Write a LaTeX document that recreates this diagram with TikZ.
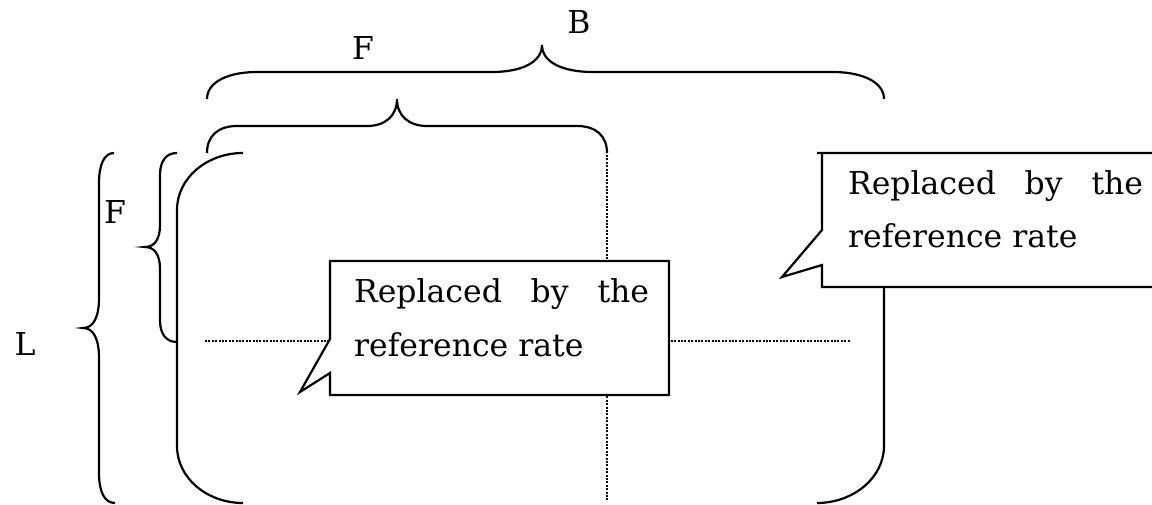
\documentclass[tikz,border=0pt]{standalone}
\usepackage{fontspec}
\setmainfont{DejaVu Serif}
\begin{document}
\begin{tikzpicture}[x=1pt,y=-1pt,
  line width=2.2pt,
  lbl/.style={inner sep=0pt,font=\fontsize{31.5}{38}\selectfont},
  txt/.style={inner sep=0pt,anchor=base west,font=\fontsize{31.5}{38}\selectfont},
  guide/.style={line width=2.6pt,dash pattern=on 2pt off 1.4pt},
  callout/.style={fill=white,line join=miter}]
\useasboundingbox (0,0) rectangle (1152,505);

% dotted cross lines
\draw[guide] (205,341) -- (850,341);
\draw[guide] (607,155) -- (607,500);

% horizontal braces
\draw (207,99) .. controls (207,82) and (228,72) .. (257,72) -- (492,72)
  .. controls (522,72) and (542,62) .. (542,45)
  .. controls (542,62) and (562,72) .. (593,72) -- (833,72)
  .. controls (862,72) and (884,82) .. (884,99);
\draw (207,153) .. controls (207,136) and (218,126) .. (237,126) -- (367,126)
  .. controls (385,126) and (397,116) .. (397,99)
  .. controls (397,116) and (409,126) .. (427,126) -- (577,126)
  .. controls (596,126) and (607,136) .. (607,153);

% vertical braces
\draw (114,153) .. controls (104,153) and (99,165) .. (99,183) -- (99,298)
  .. controls (99,318) and (93,328) .. (83,328)
  .. controls (93,328) and (99,338) .. (99,358) -- (99,473)
  .. controls (99,491) and (104,503) .. (115,503);
\draw (177,153) .. controls (166,153) and (160,161) .. (160,175) -- (160,225)
  .. controls (160,240) and (154,247) .. (145,247)
  .. controls (154,247) and (160,254) .. (160,269) -- (160,320)
  .. controls (160,334) and (166,342) .. (177,342);

% large brackets
\draw (243,153) .. controls (207,153) and (177,178) .. (177,210) -- (177,446)
  .. controls (177,478) and (207,503) .. (243,503);
\draw (817,153) .. controls (853,153) and (884,178) .. (884,210) -- (884,446)
  .. controls (884,478) and (853,503) .. (817,503);

% labels
\node[lbl] (fTop) at (363,48) {F};
\node[lbl] (bTop) at (579,22) {B};
\node[lbl] (fLeft) at (115,212) {F};
\node[lbl] (lLeft) at (25,344) {L};

% callouts
\draw[callout] (330,261) -- (669,261) -- (669,395) -- (330,395) -- (330,373)
  -- (300,392) -- (330,339) -- cycle;
\node[txt] (midA) at (353,303) {\makebox[295pt][s]{Replaced by the}};
\node[txt] (midB) at (353,356) {reference rate};

\draw[callout] (1160,153) -- (822,153) -- (822,230) -- (782,277) -- (822,265)
  -- (822,287) -- (1160,287);
\node[txt] (rightA) at (847,195) {\makebox[295pt][s]{Replaced by the}};
\node[txt] (rightB) at (847,248) {reference rate};
\end{tikzpicture}
\end{document}
